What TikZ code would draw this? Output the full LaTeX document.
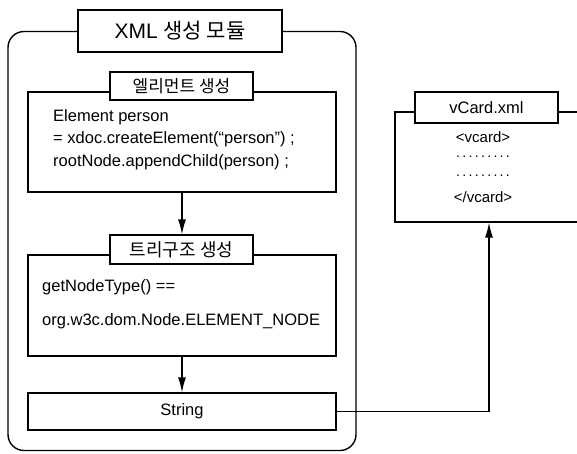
\documentclass[tikz,border=0pt]{standalone}
\usepackage{fontspec}
\setmainfont{Liberation Sans}
\newfontfamily\kr{Noto Sans CJK KR}[BoldFont={Noto Sans CJK KR Bold}]
\usetikzlibrary{arrows.meta,positioning}

\tikzset{
  boite/.style={draw, line width=1.2pt, inner sep=0pt},
  titre/.style={draw, fill=white, line width=1.2pt, inner sep=0pt, font=\kr\fontsize{17}{17}\selectfont},
  code/.style={anchor=west, inner sep=0pt, font=\fontsize{16.5}{16.5}\selectfont},
  fleche/.style={line width=1.3pt, -{Latex[length=15pt,width=8pt]}}
}

\begin{document}
\begin{tikzpicture}[x=1pt,y=-1pt]
\useasboundingbox (0,0) rectangle (577,453);
\clip (0,0) rectangle (577,453);

% Le module
\node[boite, line width=1.4pt, rounded corners=16pt, minimum width=348pt, minimum height=419pt] (module) at (182,241) {};
\node[titre, minimum width=204pt, minimum height=42pt, font=\fontsize{21}{21}\selectfont] (titremodule) at (180,31) {XML {\kr 생성 모듈}};

% Creation de l'element
\node[boite, minimum width=308pt, minimum height=100pt] (creation) at (182,142) {};
\node[titre, minimum width=143pt, minimum height=28pt] (titrecreation) at (181.5,86) {엘리먼트 생성};
\node[code] (c1) at (53,117) {Element person};
\node[code] (c2) at (53,139) {= xdoc.createElement(“person”) ;};
\node[code] (c3) at (53,162) {rootNode.appendChild(person) ;};

% Arbre
\node[boite, minimum width=308pt, minimum height=101pt] (arbre) at (182,305.5) {};
\node[titre, minimum width=143pt, minimum height=29pt, font=\kr\fontsize{18}{18}\selectfont] (titrearbre) at (181.5,249.5) {트리구조 생성};
\node[code] (a1) at (42,287) {getNodeType() ==};
\node[code] (a2) at (42,321) {org.w3c.dom.Node.ELEMENT\_NODE};

% String
\node[boite, minimum width=308pt, minimum height=37pt, font=\fontsize{16.5}{16.5}\selectfont] (chaine) at (182,411.5) {String};

% vCard
\node[boite, minimum width=188pt, minimum height=110pt] (vcard) at (489,167) {};
\node[titre, minimum width=143pt, minimum height=31pt, font=\fontsize{16.5}{16.5}\selectfont] (titrevcard) at (486.5,107.5) {vCard.xml};
\node[inner sep=0pt, font=\fontsize{15}{15}\selectfont] (v1) at (483,137) {<vcard>};
\node[inner sep=0pt, font=\fontsize{14}{14}\selectfont] (v2) at (483,157) {.\,.\,.\,.\,.\,.\,.\,.\,.};
\node[inner sep=0pt, font=\fontsize{14}{14}\selectfont] (v3) at (483,176) {.\,.\,.\,.\,.\,.\,.\,.\,.};
\node[inner sep=0pt, font=\fontsize{15}{15}\selectfont] (v4) at (483,197) {</vcard>};

% Les fleches
\draw[fleche] (creation.south) -- (creation.south |- titrearbre.north);
\draw[fleche] (arbre.south) -- (chaine.north);
\draw[fleche] (chaine.east) -| (vcard.south);

\end{tikzpicture}
\end{document}
